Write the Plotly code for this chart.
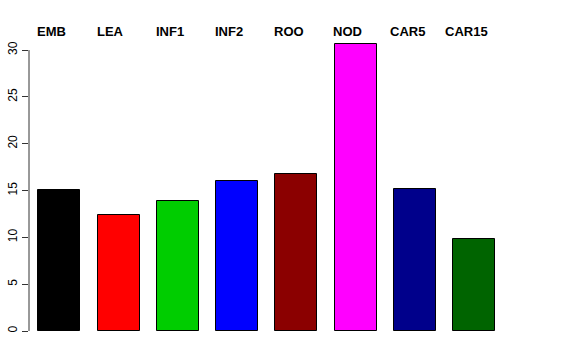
import plotly.graph_objects as go

categories = ["EMB", "LEA", "INF1", "INF2", "ROO", "NOD", "CAR5", "CAR15"]
values = [15.08, 12.38, 13.84, 16.05, 16.78, 30.7, 15.19, 9.85]
colors = ["#000000", "#FF0000", "#00CD00", "#0000FF", "#8B0000", "#FF00FF", "#00008B", "#006400"]
ytick_vals = [0, 5, 10, 15, 20, 25, 30]

xs = list(range(len(categories)))

fig = go.Figure()
fig.add_trace(go.Bar(
    x=xs, y=values, width=0.71,
    marker=dict(color=colors, line=dict(color="#000000", width=1)),
    hoverinfo="skip", showlegend=False,
))

for i, c in enumerate(categories):
    fig.add_annotation(x=i - 0.13, y=32.0, xref="x", yref="y",
                       text="<b>%s</b>" % c, showarrow=False,
                       font=dict(family="Liberation Sans, Arial", size=13, color="#000000"),
                       xanchor="center", yanchor="middle")

fig.add_shape(type="line", xref="paper", yref="y", x0=0, x1=0, y0=0, y1=30,
              line=dict(color="#333333", width=1))

fig.update_layout(
    width=576, height=360,
    margin=dict(l=29, r=0, t=22, b=29, pad=0, autoexpand=False),
    paper_bgcolor="white", plot_bgcolor="white",
    bargap=0,
    font=dict(family="Liberation Sans, Arial", size=12, color="#000000"),
    xaxis=dict(range=[-0.511, 8.72], showticklabels=False, showgrid=False,
               zeroline=False, showline=False, ticks="", automargin=False),
    yaxis=dict(range=[0, 33], tickvals=ytick_vals, ticktext=[str(v) for v in ytick_vals],
               showgrid=False, zeroline=False, showline=False, automargin=False,
               ticks="outside", ticklen=6, tickcolor="#333333", tickwidth=1,
               tickangle=-90, tickfont=dict(size=12, color="#000000")),
)

fig.write_html("out.html", config={"displayModeBar": False},
               post_script="document.body.style.margin='0';")
